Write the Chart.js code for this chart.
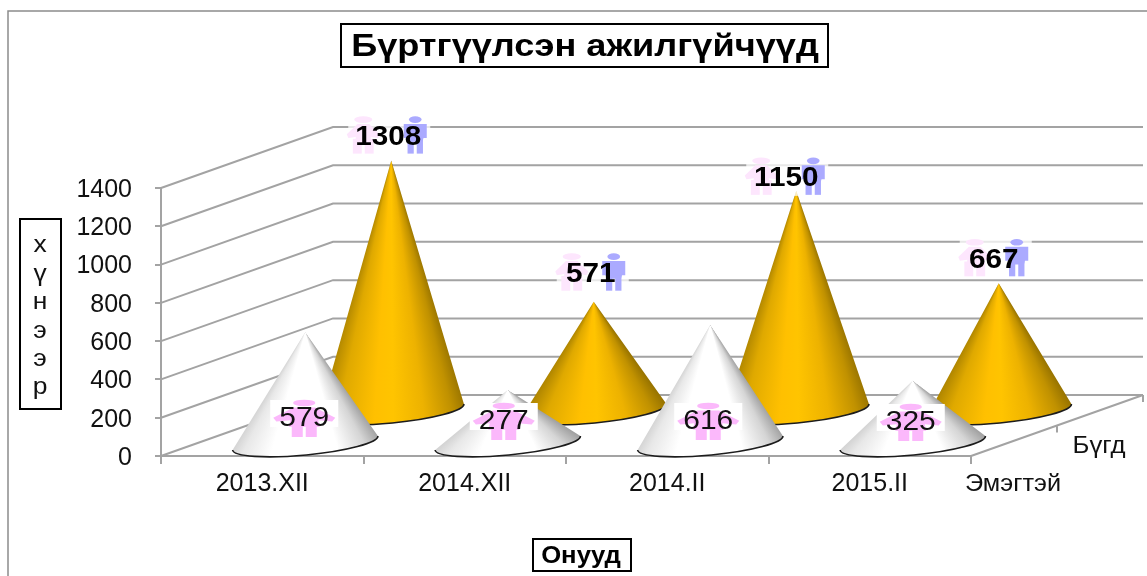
<!DOCTYPE html>
<html>
<head>
<meta charset="utf-8">
<title>Бүртгүүлсэн ажилгүйчүүд</title>
<script src="https://cdn.jsdelivr.net/npm/chart.js@4"></script>
<style>
  html, body { margin: 0; padding: 0; background: #fff; overflow: hidden; }
  canvas { display: block; }
</style>
</head>
<body>
<canvas id="chart1" width="1147" height="576"></canvas>
<script>
var categories = ["2013.XII", "2014.XII", "2014.II", "2015.II"];
var seriesNames = ["Эмэгтэй", "Бүгд"];
var womenValues = [579, 277, 616, 325];
var totalValues = [1308, 571, 1150, 667];
var yTicks = [0, 200, 400, 600, 800, 1000, 1200, 1400];

var titleText = "Бүртгүүлсэн ажилгүйчүүд";
var yTitleLetters = ["х", "ү", "н", "э", "э", "р"];
var xTitleText = "Онууд";

var FONT = "'Liberation Sans', Arial, sans-serif";
var DEPTH_X = 172, DEPTH_Y = -61;   // floor depth of the fake 3d box
var GRID = "#a3a3a3";

// label positions were moved by hand in the original
var frontNudge = [[-1, -26], [-4, -23], [-2, -23], [-2, -22]];
var backNudge = [[-3, -25], [-3, -29], [-10, -14], [-5, -25]];

function boxText(ctx, x1, y1, x2, y2) {
  ctx.fillStyle = "#fff";
  ctx.fillRect(x1, y1, x2 - x1, y2 - y1);
  ctx.strokeStyle = "#000";
  ctx.lineWidth = 2;
  ctx.strokeRect(x1, y1, x2 - x1, y2 - y1);
}

// the original picture is stretched sideways, so text is too
function wideText(ctx, text, x, y, sx) {
  ctx.save();
  ctx.translate(x, y);
  ctx.scale(sx, 1);
  ctx.fillText(text, 0, 0);
  ctx.restore();
}

function drawCone(ctx, cx, cy, tipX, tipY, stops) {
  var rx = 73, ry = 12, rot = -0.096;
  var a0 = Math.atan2(cy - 7 - tipY, cx + rx - tipX) - 0.02;
  var a1 = Math.atan2(cy + 7 - tipY, cx - rx - tipX) + 0.02;
  var span = (a1 - a0) / (Math.PI * 2);
  var grad = ctx.createConicGradient(a0, tipX, tipY);
  for (var i = 0; i < stops.length; i++) {
    grad.addColorStop(stops[i][0] * span, stops[i][1]);
  }
  ctx.beginPath();
  ctx.ellipse(cx, cy, rx, ry, rot, 0, Math.PI);
  ctx.lineTo(tipX, tipY);
  ctx.closePath();
  ctx.fillStyle = grad;
  ctx.fill();
  ctx.beginPath();
  ctx.ellipse(cx, cy, rx, ry, rot, 0, Math.PI);
  ctx.strokeStyle = "#1c1c1c";
  ctx.lineWidth = 1.6;
  ctx.stroke();
}

function person(ctx, cx, top, w, h, color, dress) {
  var hw = w / 2;
  ctx.fillStyle = color;
  ctx.beginPath();
  ctx.ellipse(cx, top + h * 0.08, dress && w > 40 ? hw * 0.36 : hw * 0.55, h * 0.09, 0, 0, Math.PI * 2);
  ctx.fill();
  // body with arms
  ctx.beginPath();
  if (dress) {
    ctx.moveTo(cx - hw * 0.35, top + h * 0.2);
    ctx.lineTo(cx + hw * 0.35, top + h * 0.2);
    ctx.lineTo(cx + hw, top + h * 0.48);
    ctx.lineTo(cx + hw * 0.9, top + h * 0.58);
    ctx.lineTo(cx + hw * 0.45, top + h * 0.55);
    ctx.lineTo(cx + hw * 0.5, top + h * 0.72);
    ctx.lineTo(cx - hw * 0.5, top + h * 0.72);
    ctx.lineTo(cx - hw * 0.45, top + h * 0.55);
    ctx.lineTo(cx - hw * 0.9, top + h * 0.58);
    ctx.lineTo(cx - hw, top + h * 0.48);
  } else {
    ctx.moveTo(cx - hw, top + h * 0.2);
    ctx.lineTo(cx + hw, top + h * 0.2);
    ctx.lineTo(cx + hw, top + h * 0.58);
    ctx.lineTo(cx + hw * 0.72, top + h * 0.58);
    ctx.lineTo(cx + hw * 0.62, top + h * 0.68);
    ctx.lineTo(cx - hw * 0.62, top + h * 0.68);
    ctx.lineTo(cx - hw * 0.72, top + h * 0.58);
    ctx.lineTo(cx - hw, top + h * 0.58);
  }
  ctx.closePath();
  ctx.fill();
  // legs
  var leg = Math.min(hw * 0.54, 11);
  ctx.fillRect(cx - leg - 1.5, top + h * 0.6, leg, h * 0.4);
  ctx.fillRect(cx + 1.5, top + h * 0.6, leg, h * 0.4);
}

var GOLD = [[0, "#8f6d00"], [0.12, "#c09100"], [0.3, "#edb200"], [0.5, "#ffc400"], [0.62, "#ffc000"], [0.85, "#dfa900"], [1, "#a88000"]];
var WHITE = [[0, "#9a9a9a"], [0.12, "#d5d5d5"], [0.3, "#ffffff"], [0.75, "#ffffff"], [0.92, "#e8e8e8"], [1, "#cfcfcf"]];

var conePlugin = {
  id: "cones",
  beforeDatasetsDraw: function (chart) {
    var ctx = chart.ctx, y = chart.scales.y, area = chart.chartArea;
    ctx.save();
    // frame of the picture
    ctx.strokeStyle = "#8c8c8c";
    ctx.lineWidth = 1.5;
    ctx.beginPath();
    ctx.moveTo(8, 576);
    ctx.lineTo(8, 11);
    ctx.lineTo(1147, 11);
    ctx.stroke();
    // side wall and back wall lines
    ctx.strokeStyle = GRID;
    ctx.lineWidth = 2;
    for (var i = 0; i < yTicks.length; i++) {
      var py = y.getPixelForValue(yTicks[i]);
      ctx.beginPath();
      ctx.moveTo(area.left, py);
      ctx.lineTo(area.left + DEPTH_X, py + DEPTH_Y);
      ctx.lineTo(area.right + DEPTH_X, py + DEPTH_Y);
      ctx.stroke();
    }
    // floor edge on the right and its depth ticks
    ctx.beginPath();
    ctx.moveTo(area.right, area.bottom);
    ctx.lineTo(area.right + DEPTH_X, area.bottom + DEPTH_Y);
    ctx.moveTo(area.right + DEPTH_X / 2, area.bottom + DEPTH_Y / 2);
    ctx.lineTo(area.right + DEPTH_X / 2, area.bottom + DEPTH_Y / 2 + 7);
    ctx.moveTo(area.right + DEPTH_X, area.bottom + DEPTH_Y);
    ctx.lineTo(area.right + DEPTH_X, area.bottom + DEPTH_Y + 7);
    ctx.stroke();
    ctx.restore();
  },
  afterDatasetsDraw: function (chart) {
    var ctx = chart.ctx, area = chart.chartArea;
    var front = chart.getDatasetMeta(0).data;
    var back = chart.getDatasetMeta(1).data;
    var i, el, lx, ly, offW, offM;
    ctx.save();
    for (i = 0; i < back.length; i++) {
      el = back[i];
      drawCone(ctx, el.x + 129, area.bottom - 45, el.x + 129, el.y - 45, GOLD);
    }
    for (i = 0; i < front.length; i++) {
      el = front[i];
      drawCone(ctx, el.x + 43, area.bottom - 13, el.x + 43, el.y - 13, WHITE);
    }
    ctx.textAlign = "center";
    ctx.textBaseline = "middle";
    for (i = 0; i < back.length; i++) {
      el = back[i];
      lx = el.x + 129 + backNudge[i][0];
      ly = el.y - 45 + backNudge[i][1];
      offW = totalValues[i] >= 1000 ? 25 : 19;
      offM = totalValues[i] >= 1000 ? 27 : 23;
      ctx.fillStyle = "rgba(255,255,255,0.75)";
      ctx.fillRect(lx - offW - 15, ly - 19, offW + offM + 30, 38);
      person(ctx, lx - offW, ly - 19, 33, 37, "#fde6fd", true);
      person(ctx, lx + offM, ly - 19, 23, 37, "#abaaff", false);
      ctx.fillStyle = "#000";
      ctx.font = "bold 27px " + FONT;
      wideText(ctx, totalValues[i], lx, ly + 2, 1.1);
    }
    for (i = 0; i < front.length; i++) {
      el = front[i];
      lx = el.x + 43 + frontNudge[i][0];
      ly = (area.bottom - 13) + frontNudge[i][1];
      ctx.fillStyle = "#fff";
      ctx.fillRect(lx - 34, ly - 17, 68, 27);
      person(ctx, lx, ly - 17, 62, 37, "#fbb8fb", true);
      ctx.fillStyle = "#111";
      ctx.font = "28px " + FONT;
      wideText(ctx, womenValues[i], lx, ly + 1, 1.07);
    }
    // series names on the depth axis
    ctx.fillStyle = "#111";
    ctx.font = "23px " + FONT;
    wideText(ctx, seriesNames[0], 1013, 485, 1.1);
    wideText(ctx, seriesNames[1], 1099, 447, 1.12);

    // title box
    boxText(ctx, 341, 24, 828, 67);
    ctx.fillStyle = "#000";
    ctx.font = "bold 32px " + FONT;
    wideText(ctx, titleText, 585, 47, 1.13);
    // y axis title, letters stacked
    boxText(ctx, 20, 219, 61, 409);
    ctx.fillStyle = "#111";
    ctx.font = "23px " + FONT;
    for (i = 0; i < yTitleLetters.length; i++) {
      wideText(ctx, yTitleLetters[i], 40, 246 + i * 28.4, 1.15);
    }
    // x axis title
    boxText(ctx, 533, 539, 631, 571);
    ctx.fillStyle = "#000";
    ctx.font = "bold 24px " + FONT;
    wideText(ctx, xTitleText, 581, 556, 1.07);
    ctx.restore();
  }
};

var chart1 = new Chart(document.getElementById("chart1"), {
  type: "bar",
  plugins: [conePlugin],
  data: {
    labels: categories,
    datasets: [
      { label: seriesNames[0], data: womenValues, grouped: false, backgroundColor: "rgba(0,0,0,0)" },
      { label: seriesNames[1], data: totalValues, grouped: false, backgroundColor: "rgba(0,0,0,0)" }
    ]
  },
  options: {
    responsive: false,
    animation: false,
    layout: { padding: { left: 0, right: 176, top: 188, bottom: 0 } },
    plugins: { legend: { display: false }, tooltip: { enabled: false }, title: { display: false } },
    scales: {
      x: {
        afterFit: function (s) { s.height = 120; },
        grid: { drawOnChartArea: false, color: GRID, tickLength: 8, lineWidth: 2 },
        border: { color: GRID, width: 2 },
        ticks: { color: "#111", padding: 5, font: { family: FONT, size: 25 }, maxRotation: 0 }
      },
      y: {
        min: 0,
        max: 1400,
        afterFit: function (s) { s.width = 161; },
        grid: { drawOnChartArea: false, color: GRID, tickLength: 6, lineWidth: 2 },
        border: { color: GRID, width: 2 },
        ticks: {
          color: "#111",
          stepSize: 200,
          padding: 23,
          labelOffset: 2,
          font: { family: FONT, size: 25 },
          callback: function (v) { return String(v); }
        }
      }
    }
  }
});
</script>
</body>
</html>
